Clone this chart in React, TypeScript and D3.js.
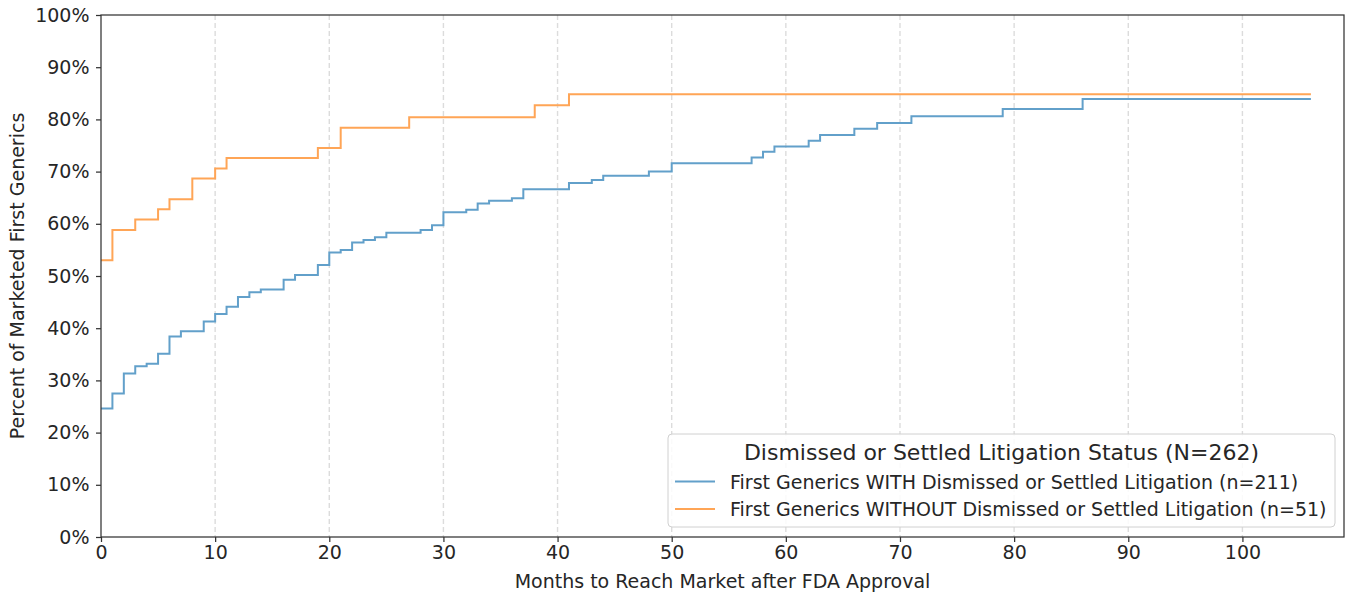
import { useEffect, useRef } from 'react';
import * as d3 from 'd3';

// step points (month where the step starts, cumulative percent marketed)
const withMonths = [0, 1, 2, 3, 4, 5, 6, 7, 9, 10, 11, 12, 13, 14, 16, 17, 19, 20, 21, 22, 23, 24, 25, 28, 29, 30, 32, 33, 34, 36, 37, 41, 43, 44, 48, 50, 57, 58, 59, 62, 63, 66, 68, 71, 79, 86, 106];
const withPct = [24.6, 27.5, 31.3, 32.7, 33.2, 35.1, 38.4, 39.4, 41.3, 42.7, 44.1, 46.0, 46.9, 47.4, 49.3, 50.2, 52.1, 54.5, 55.0, 56.4, 56.9, 57.4, 58.3, 58.8, 59.7, 62.2, 62.7, 63.9, 64.4, 64.9, 66.6, 67.8, 68.4, 69.2, 70.0, 71.6, 72.7, 73.8, 74.8, 75.9, 77.0, 78.2, 79.3, 80.6, 82.0, 83.9, 83.9];

const withoutMonths = [0, 1, 3, 5, 6, 8, 10, 11, 19, 21, 27, 38, 41, 106];
const withoutPct = [53.0, 58.8, 60.8, 62.8, 64.7, 68.7, 70.6, 72.6, 74.5, 78.4, 80.4, 82.7, 84.8, 84.8];

const xTicks = [0, 10, 20, 30, 40, 50, 60, 70, 80, 90, 100];
const yTicks = [0, 10, 20, 30, 40, 50, 60, 70, 80, 90, 100];

const legendTitle = 'Dismissed or Settled Litigation Status (N=262)';
const seriesNames = [
    'First Generics WITH Dismissed or Settled Litigation (n=211)',
    'First Generics WITHOUT Dismissed or Settled Litigation (n=51)',
];
const seriesColors = ['#62a0ca', '#ffa556'];

const xLabel = 'Months to Reach Market after FDA Approval';
const yLabel = 'Percent of Marketed First Generics';

export default function App() {
    const svgRef = useRef<SVGSVGElement>(null);

    useEffect(() => {
        document.body.style.margin = '0';
        const svg = d3.select(svgRef.current);
        svg.selectAll('*').remove();

        const margin = { top: 15, right: 2, bottom: 57, left: 101 };
        const width = 1346 - margin.left - margin.right;
        const height = 594 - margin.top - margin.bottom;
        const font = '"DejaVu Sans", sans-serif';
        const textColor = '#262626';
        const fs = '19px';

        const x = d3.scaleLinear().domain([0, 108.9]).range([0, width]);
        const y = d3.scaleLinear().domain([0, 100]).range([height, 0]);

        const g = svg.append('g').attr('transform', `translate(${margin.left},${margin.top})`);

        // vertical dashed grid
        g.selectAll('.grid')
            .data(xTicks.filter(d => d > 0))
            .enter()
            .append('line')
            .attr('x1', d => x(d))
            .attr('x2', d => x(d))
            .attr('y1', 0)
            .attr('y2', height)
            .attr('stroke', '#dcdcdc')
            .attr('stroke-width', 1.4)
            .attr('stroke-dasharray', '5,3');

        const series = [
            withMonths.map((m, i) => [m, withPct[i]] as [number, number]),
            withoutMonths.map((m, i) => [m, withoutPct[i]] as [number, number]),
        ];

        const line = d3.line<[number, number]>()
            .x(d => x(d[0]))
            .y(d => y(d[1]))
            .curve(d3.curveStepAfter);

        series.forEach((s, i) => {
            g.append('path')
                .datum(s)
                .attr('fill', 'none')
                .attr('stroke', seriesColors[i])
                .attr('stroke-width', 2)
                .attr('d', line);
        });

        // axes
        const xAxis = g.append('g')
            .attr('transform', `translate(0,${height})`)
            .call(d3.axisBottom(x).tickValues(xTicks).tickSize(5).tickPadding(3.5));
        const yAxis = g.append('g')
            .call(d3.axisLeft(y).tickValues(yTicks).tickSize(5).tickPadding(6.5).tickFormat(d => `${d}%`));

        [xAxis, yAxis].forEach(a => {
            a.select('.domain').remove();
            a.selectAll('line').attr('stroke', '#333').attr('stroke-width', 1.25);
            a.selectAll('text')
                .attr('fill', textColor)
                .style('font-family', font)
                .style('font-size', fs);
        });

        // frame
        g.append('rect')
            .attr('x', 0)
            .attr('y', 0)
            .attr('width', width)
            .attr('height', height)
            .attr('fill', 'none')
            .attr('stroke', '#333')
            .attr('stroke-width', 1.25);

        // axis labels
        svg.append('text')
            .attr('x', margin.left + width / 2)
            .attr('y', 588)
            .attr('text-anchor', 'middle')
            .attr('fill', textColor)
            .style('font-family', font)
            .style('font-size', fs)
            .text(xLabel);

        svg.append('text')
            .attr('transform', `translate(24,${margin.top + height / 2}) rotate(-90)`)
            .attr('text-anchor', 'middle')
            .attr('fill', textColor)
            .style('font-family', font)
            .style('font-size', fs)
            .text(yLabel);

        // legend
        const lg = svg.append('g').attr('transform', 'translate(668,434)');
        lg.append('rect')
            .attr('width', 667)
            .attr('height', 93)
            .attr('rx', 4)
            .attr('fill', 'white')
            .attr('fill-opacity', 0.85)
            .attr('stroke', '#d0d0d0');
        lg.append('text')
            .attr('x', 333.5)
            .attr('y', 26)
            .attr('text-anchor', 'middle')
            .attr('fill', textColor)
            .style('font-family', font)
            .style('font-size', '22px')
            .text(legendTitle);
        seriesNames.forEach((name, i) => {
            const cy = 47.5 + i * 27.5;
            lg.append('line')
                .attr('x1', 7)
                .attr('x2', 47)
                .attr('y1', cy)
                .attr('y2', cy)
                .attr('stroke', seriesColors[i])
                .attr('stroke-width', 2);
            lg.append('text')
                .attr('x', 62)
                .attr('y', cy + 7)
                .attr('fill', textColor)
                .style('font-family', font)
                .style('font-size', fs)
                .text(name);
        });
    }, []);

    return <svg ref={svgRef} width={1346} height={594} style={{ display: 'block' }}></svg>;
}
